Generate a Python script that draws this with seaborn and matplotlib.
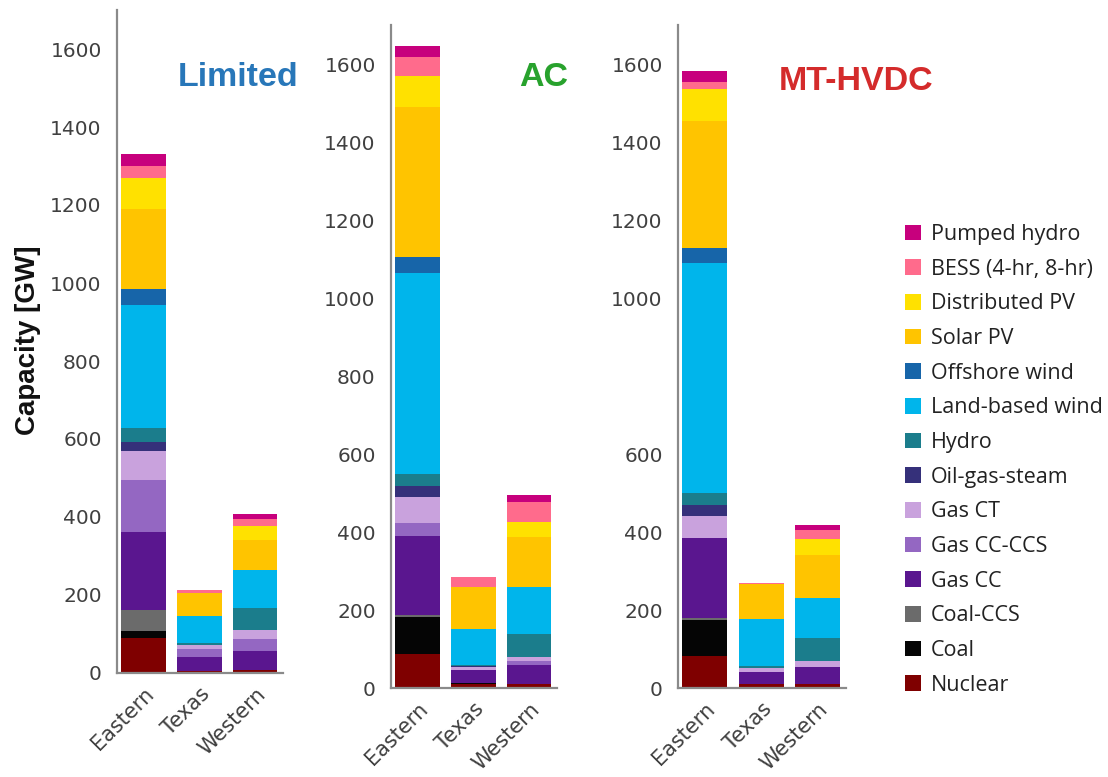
import numpy as np
import pandas as pd
import matplotlib
matplotlib.use("Agg")
import matplotlib.pyplot as plt
import seaborn as sns
from matplotlib.patches import Patch
from matplotlib.ticker import MultipleLocator, FixedLocator

# ---- data (GW), technologies listed bottom-to-top of each stack ----
regions = ["Eastern", "Texas", "Western"]
technologies = ["Nuclear", "Coal", "Coal-CCS", "Gas CC", "Gas CC-CCS", "Gas CT",
                "Oil-gas-steam", "Hydro", "Land-based wind", "Offshore wind",
                "Solar PV", "Distributed PV", "BESS (4-hr, 8-hr)", "Pumped hydro"]
tech_colors = ["#7f0000", "#050505", "#6b6b6b", "#5a168f", "#9467c2", "#c9a2dd",
               "#35307a", "#1b7d8c", "#00b5eb", "#1765a9",
               "#ffc400", "#ffe100", "#ff6b8c", "#c7007d"]

scenarios = ["Limited", "AC", "MT-HVDC"]
scenario_colors = ["#2877b9", "#28a22d", "#d42b2b"]

limited_eastern = [89, 19, 54, 199, 133, 74, 25, 35, 316, 41, 204, 81, 29, 31]
limited_texas = [4, 0, 0, 38, 20, 9, 0, 6, 68, 0, 60, 0, 9, 0]
limited_western = [8, 0, 0, 49, 31, 23, 0, 56, 98, 0, 77, 36, 17, 13]

ac_eastern = [86, 95, 7, 203, 32, 66, 29, 32, 515, 39, 385, 80, 50, 26]
ac_texas = [10, 4, 0, 32, 0, 8, 2, 3, 92, 0, 108, 0, 26, 0]
ac_western = [10, 0, 0, 50, 8, 12, 0, 59, 121, 0, 127, 38, 51, 19]

hvdc_eastern = [82, 93, 5, 205, 0, 57, 28, 29, 590, 38, 327, 82, 19, 27]
hvdc_texas = [10, 0, 0, 32, 0, 10, 0, 5, 120, 0, 89, 0, 3, 0]
hvdc_western = [10, 0, 0, 43, 0, 17, 0, 58, 104, 0, 108, 41, 25, 13]

scenario_data = {
    "Limited": [limited_eastern, limited_texas, limited_western],
    "AC": [ac_eastern, ac_texas, ac_western],
    "MT-HVDC": [hvdc_eastern, hvdc_texas, hvdc_western],
}

rows = []
for scen in scenarios:
    for reg, vals in zip(regions, scenario_data[scen]):
        tops = np.cumsum(vals)
        for tech, v, top in zip(technologies, vals, tops):
            rows.append({"scenario": scen, "region": reg, "tech": tech,
                         "value": v, "top": top})
df = pd.DataFrame(rows)

sns.set_style("white")
plt.rcParams["font.family"] = ["DejaVu Sans"]

W, H = 1108, 777
fig = plt.figure(figsize=(W / 100, H / 100), dpi=100)

# axes boxes in pixel units: left, right, bottom (y from top)
boxes = [(117, 283, 673), (391, 557, 688), (678, 846, 688)]
ymax = 1700
px_per_gw = 0.39
axes = []
for (l, r, b) in boxes:
    hgt = ymax * px_per_gw
    ax = fig.add_axes([l / W, (H - b) / H, (r - l) / W, hgt / H])
    axes.append(ax)

spine_col = "#8a8a8a"
tick_col = "#404040"

for ax, scen in zip(axes, scenarios):
    sub = df[df["scenario"] == scen]
    # draw cumulative heights from the top of the stack down
    for tech, col in reversed(list(zip(technologies, tech_colors))):
        layer = sub[sub["tech"] == tech]
        sns.barplot(data=layer, x="region", y="top", order=regions, color=col,
                    saturation=1, width=0.8, linewidth=0, errorbar=None, ax=ax)
    ax.set_xlim(-0.47, 2.5)
    ax.set_ylim(0, ymax)
    ax.set_xlabel("")
    ax.set_ylabel("")
    for s in ["top", "right"]:
        ax.spines[s].set_visible(False)
    for s in ["left", "bottom"]:
        ax.spines[s].set_color(spine_col)
        ax.spines[s].set_linewidth(1.6)
    if scen == "MT-HVDC":
        ax.yaxis.set_major_locator(FixedLocator([0, 200, 400, 600, 1000, 1200, 1400, 1600]))
    else:
        ax.yaxis.set_major_locator(MultipleLocator(200))
    ax.yaxis.set_minor_locator(MultipleLocator(100))
    ax.tick_params(axis="y", which="major", length=7, width=1.3, color=spine_col,
                   labelsize=14.5, labelcolor=tick_col, pad=4)
    ax.tick_params(axis="y", which="minor", length=4, width=1.1, color=spine_col)
    ax.tick_params(axis="x", which="major", length=5, width=1.1, color=spine_col,
                   labelsize=15, labelcolor=tick_col, pad=3)
    for lab in ax.get_xticklabels():
        lab.set_rotation(45)
        lab.set_ha("right")
        lab.set_rotation_mode("anchor")

# scenario titles
title_pos = [(238, 78), (544, 78), (856, 82)]
for (tx, ty), scen, col in zip(title_pos, scenarios, scenario_colors):
    fig.text(tx / W, 1 - ty / H, scen, color=col, fontsize=24.5, fontweight="bold",
             family=["Liberation Sans", "DejaVu Sans"], ha="center", va="center")

fig.text(28 / W, 1 - 340 / H, "Capacity [GW]", rotation=90, fontsize=20,
         fontweight="bold", family=["Liberation Sans", "DejaVu Sans"],
         ha="center", va="center", color="#111111")

handles = [Patch(facecolor=c, edgecolor="none", label=t)
           for t, c in zip(technologies, tech_colors)][::-1]
fig.legend(handles=handles, loc="upper left", bbox_to_anchor=(905 / W, 1 - 224 / H),
           frameon=False, prop={"family": ["Open Sans", "DejaVu Sans"], "size": 15.5},
           labelcolor="#222222", handlelength=0.75, handleheight=0.75,
           handletextpad=0.45, labelspacing=0.635, borderaxespad=0, borderpad=0)

fig.savefig("out.png", dpi=100, facecolor="white")
